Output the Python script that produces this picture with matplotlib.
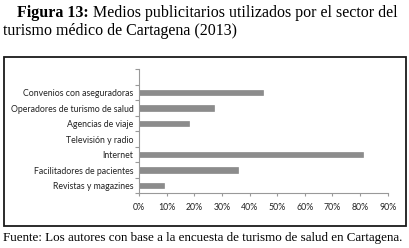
import matplotlib
matplotlib.use("Agg")
import matplotlib.pyplot as plt
from matplotlib.patches import Rectangle
import numpy as np

# data (top to bottom in the picture, first slot is empty)
categorias = ["", "Convenios con aseguradoras", "Operadores de turismo de salud",
              "Agencias de viaje", "Televisión y radio", "Internet",
              "Facilitadores de pacientes", "Revistas y magazines"]
valores = [0, 0.45, 0.27, 0.18, 0.0, 0.81, 0.36, 0.09]
xticks = [0, 0.1, 0.2, 0.3, 0.4, 0.5, 0.6, 0.7, 0.8, 0.9]
xlabels = ["0%", "10%", "20%", "30%", "40%", "50%", "60%", "70%", "80%", "90%"]

W, H = 410, 248
fig = plt.figure(figsize=(W / 100, H / 100), dpi=100)
plt.rcParams["font.family"] = ["Lato", "DejaVu Sans"]

# frame round the chart
fig.patches.append(Rectangle((3.5 / W, 1 - 226 / H), (406 - 3.5) / W, (226 - 56.5) / H,
                             transform=fig.transFigure, fill=False,
                             edgecolor="#1a1a1a", linewidth=1.3))

ax = fig.add_axes([139 / W, 1 - 193.3 / H, (387.7 - 139) / W, (193.3 - 69.3) / H])
cat = categorias[::-1]
val = valores[::-1]
pos = np.arange(len(cat))
ax.barh(pos, val, height=0.38, color="#8c8c8c", edgecolor="#7a7a7a", linewidth=0.4)

ax.set_xlim(0, 0.9)
ax.set_ylim(-0.5, len(cat) - 0.5)
ax.set_xticks(xticks)
ax.set_xticklabels(xlabels, fontfamily="Lato")
ax.set_yticks(pos)
ax.set_yticklabels(cat, fontfamily="Lato")
ax.set_yticks(np.arange(-0.5, len(cat), 1), minor=True)
ax.tick_params(axis="y", which="major", length=0, pad=4, labelsize=6.3, labelcolor="#222222")
ax.tick_params(axis="y", which="minor", length=3, color="#999999", width=0.8)
ax.tick_params(axis="x", length=2, color="#999999", width=0.8, pad=5, labelsize=6.3,
               labelcolor="#222222")
for s in ["top", "right"]:
    ax.spines[s].set_visible(False)
for s in ["left", "bottom"]:
    ax.spines[s].set_color("#999999")
    ax.spines[s].set_linewidth(0.8)

# title, bold part then regular part
serif = "Liberation Serif"
fig.canvas.draw()
t1 = fig.text(17 / W, 1 - 13 / H, "Figura 13:", fontfamily=serif, fontweight="bold",
              fontsize=11.5, va="center", ha="left")
r = fig.canvas.get_renderer()
bb = t1.get_window_extent(r)
fig.text(bb.x1 / W + 4 / W, 1 - 13 / H, "Medios publicitarios utilizados por el sector del",
         fontfamily=serif, fontsize=11.5, va="center", ha="left")
fig.text(3 / W, 1 - 31 / H, "turismo médico de Cartagena (2013)", fontfamily=serif,
         fontsize=11.5, va="center", ha="left")

fig.text(3 / W, 1 - 238 / H, "Fuente: Los autores con base a la encuesta de turismo de salud en Cartagena.",
         fontfamily=serif, fontsize=9.4, va="center", ha="left")

fig.savefig("out.png", dpi=100)
